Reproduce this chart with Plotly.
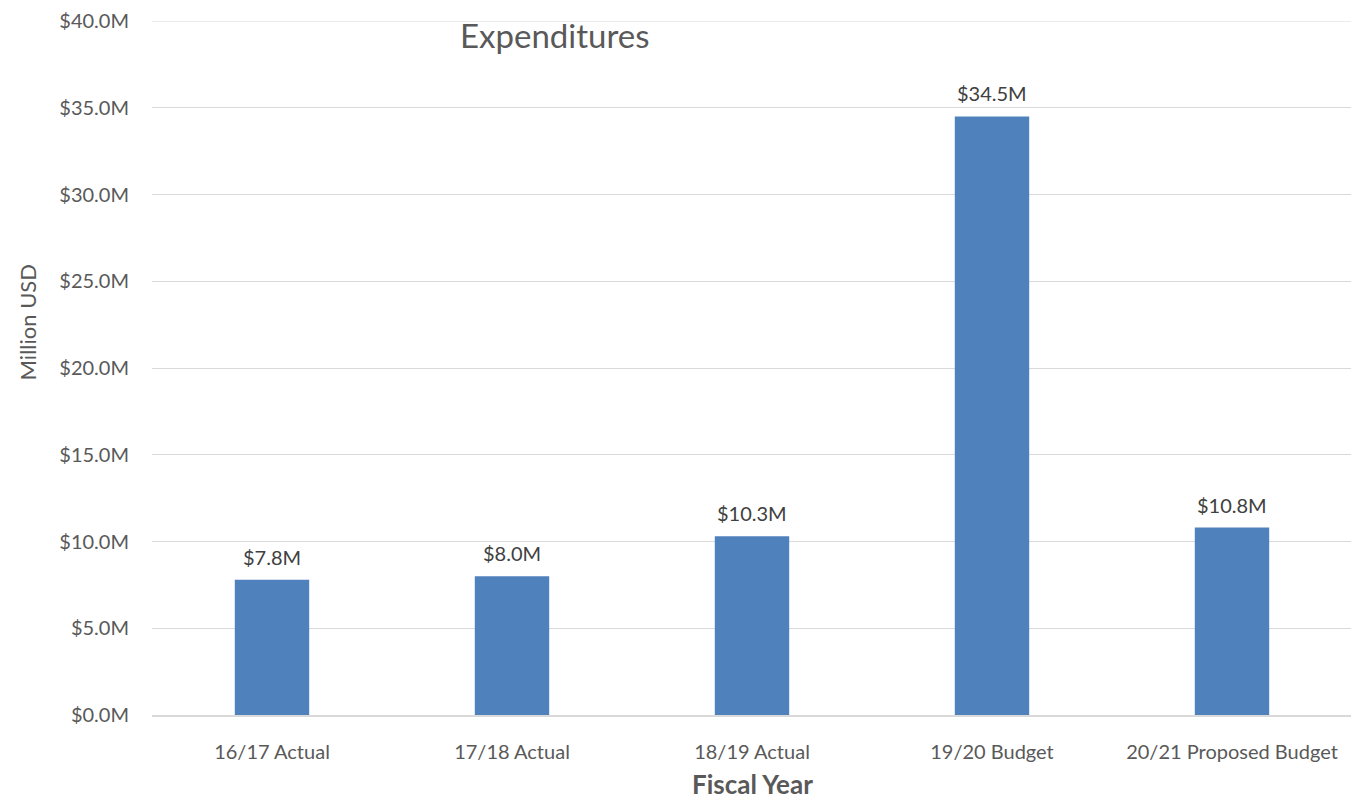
import plotly.graph_objects as go

categories = ["16/17 Actual", "17/18 Actual", "18/19 Actual", "19/20 Budget", "20/21 Proposed Budget"]
values = [7.8, 8.0, 10.3, 34.5, 10.8]
tick_vals = [0, 5, 10, 15, 20, 25, 30, 35, 40]
tick_text = ["$%.1fM" % v for v in tick_vals]

font_family = "Lato, Open Sans, sans-serif"

fig = go.Figure()
fig.add_trace(go.Bar(
    x=categories,
    y=values,
    marker=dict(color="#4f81bd", line=dict(width=0)),
    hoverinfo="x+y",
))

# value labels above each bar
for cat, val in zip(categories, values):
    fig.add_annotation(
        x=cat, y=val, text="$%.1fM" % val,
        xref="x", yref="y", yanchor="bottom", yshift=9,
        showarrow=False,
        font=dict(size=20, color="#404040"),
    )

# page body has an 8px margin, so the figure is shrunk by that much
fig.update_layout(
    width=1351, height=794,
    margin=dict(l=144, r=7, t=13, b=87),
    paper_bgcolor="white",
    plot_bgcolor="white",
    font=dict(family=font_family, color="#595959", size=20),
    bargap=0.69,
    showlegend=False,
)
fig.update_yaxes(
    range=[0, 40],
    tickvals=tick_vals,
    ticktext=tick_text,
    showgrid=True, gridcolor="#d9d9d9", gridwidth=1,
    zeroline=False,
    showline=False,
    ticks="",
    ticklabelstandoff=22,
    ticklabeloverflow="allow",
    automargin=False,
    tickfont=dict(size=20, color="#595959"),
)
fig.update_xaxes(
    showline=True, linecolor="#d9d9d9", linewidth=2,
    ticks="",
    ticklabelstandoff=18,
    automargin=False,
    tickfont=dict(size=20, color="#595959"),
)
# top gridline (plotly skips the one on the plot edge)
fig.add_hline(y=tick_vals[-1], line=dict(color="#d9d9d9", width=1), layer="below")

# axis titles
fig.add_annotation(
    text="Million USD", xref="paper", yref="paper",
    x=-0.104, xanchor="center", y=0.566, yanchor="middle",
    textangle=-90, showarrow=False,
    font=dict(size=22, color="#595959"),
)
fig.add_annotation(
    text="<b>Fiscal Year</b>", xref="paper", yref="paper",
    x=0.5, xanchor="center", y=-0.1, yanchor="middle",
    showarrow=False,
    font=dict(size=26, color="#595959"),
)
# chart title
fig.add_annotation(
    text="Expenditures", xref="paper", yref="paper",
    x=0.255, xanchor="left", y=0.98, yanchor="middle", align="left",
    showarrow=False,
    font=dict(size=33, color="#595959"),
)

fig.write_html("out.html")
